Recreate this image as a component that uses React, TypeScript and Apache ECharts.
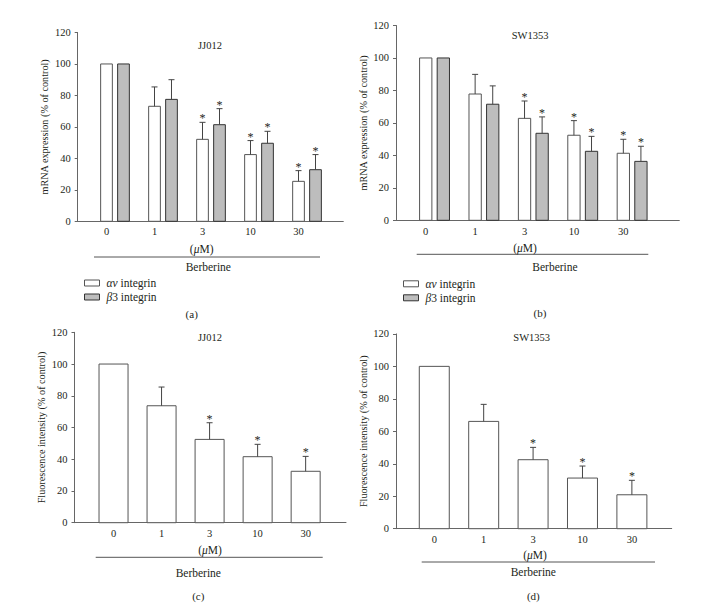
import React, { useEffect, useRef } from "react";
import * as echarts from "echarts";

// ---------- data ----------
const doses = ["0", "1", "3", "10", "30"];

// (a) JJ012 mRNA expression (% of control)
const jjMrnaAv = [100, 73.1, 52.1, 42.4, 25.4];
const jjMrnaAvErr = [0, 12.3, 10.8, 8.9, 6.8];
const jjMrnaB3 = [100, 77.5, 61.4, 49.6, 32.8];
const jjMrnaB3Err = [0, 12.5, 10.2, 7.6, 9.6];

// (b) SW1353 mRNA expression (% of control)
const swMrnaAv = [100, 77.8, 62.8, 52.4, 41.3];
const swMrnaAvErr = [0, 12.1, 10.7, 9.0, 8.6];
const swMrnaB3 = [100, 71.5, 53.6, 42.5, 36.3];
const swMrnaB3Err = [0, 11.3, 10.1, 9.2, 9.3];

// (c) JJ012 fluorescence intensity (% of control)
const jjFluo = [100, 73.7, 52.5, 41.6, 32.4];
const jjFluoErr = [0, 11.8, 10.5, 7.8, 9.4];

// (d) SW1353 fluorescence intensity (% of control)
const swFluo = [100, 66.1, 42.5, 31.2, 20.9];
const swFluoErr = [0, 10.5, 7.6, 7.4, 8.9];

// significance markers (*)
const significant = [0, 0, 1, 1, 1];

const AV = "αv integrin";
const B3 = "β3 integrin";

// ---------- style ----------
const FONT = "Liberation Serif, DejaVu Serif, serif";
const TXT = "#231f20";
const AXIS = "#666";
const EDGE = "#444";
const GRAYFILL = "#bdbdbd";

type BarOpts = {
  name: string;
  axis: number;
  values: number[];
  errs: number[];
  offset: number;
  widthFrac: number;
  fill: string;
  stroke: string;
};

function barSeries(o: BarOpts) {
  const data = o.values.map((v, i) => [i, v, o.errs[i], significant[i]]);
  return {
    type: "custom",
    name: o.name,
    xAxisIndex: o.axis,
    yAxisIndex: o.axis,
    itemStyle: { color: o.fill, borderColor: o.stroke, borderWidth: 1 },
    encode: { x: 0, y: 1 },
    clip: false,
    data,
    renderItem: (params: any, api: any) => {
      const x = api.value(0) + o.offset;
      const v = api.value(1);
      const e = api.value(2);
      const s = api.value(3);
      const base = api.coord([x, 0]);
      const top = api.coord([x, v]);
      const w = api.size([1, 0])[0] * o.widthFrac;
      const children: any[] = [
        {
          type: "rect",
          shape: { x: base[0] - w / 2, y: top[1], width: w, height: base[1] - top[1] },
          style: { fill: o.fill, stroke: o.stroke, lineWidth: 1 },
        },
      ];
      if (e > 0) {
        const et = api.coord([x, v + e]);
        children.push({
          type: "line",
          shape: { x1: top[0], y1: top[1], x2: top[0], y2: et[1] },
          style: { stroke: EDGE, lineWidth: 1 },
        });
        children.push({
          type: "line",
          shape: { x1: top[0] - 3, y1: et[1], x2: top[0] + 3, y2: et[1] },
          style: { stroke: EDGE, lineWidth: 1 },
        });
        if (s) {
          children.push({
            type: "text",
            x: top[0],
            y: et[1] - 4,
            style: {
              text: "*",
              fontSize: 12,
              fontFamily: FONT,
              fill: TXT,
              align: "center",
              verticalAlign: "middle",
            },
          });
        }
      }
      return { type: "group", children };
    },
  };
}

const panels = [
  { left: 77.7, top: 32.5, width: 265.6, height: 188.8, min: -0.777, max: 4.756, labelOff: -0.177, margin: 5, yName: "mRNA expression (% of control)" },
  { left: 396, top: 25.5, width: 283.3, height: 194.8, min: -0.78, max: 4.955, labelOff: -0.178, margin: 5.5, yName: "mRNA expression (% of control)" },
  { left: 74.5, top: 332.3, width: 271.5, height: 190.4, min: -0.8125, max: 4.84, labelOff: 0, margin: 5, yName: "Fluorescence intensity (% of control)" },
  { left: 396, top: 333.9, width: 275.7, height: 194.8, min: -0.775, max: 4.806, labelOff: 0, margin: 5.5, yName: "Fluorescence intensity (% of control)" },
];

function txt(x: number, y: number, text: string, size = 11.5, rich?: any) {
  return {
    type: "text",
    x,
    y,
    style: {
      text,
      fontSize: size,
      fontFamily: FONT,
      fill: TXT,
      align: "center",
      verticalAlign: "middle",
      rich,
    },
  };
}

function hline(x1: number, x2: number, y: number) {
  return { type: "line", shape: { x1, y1: y, x2, y2: y }, style: { stroke: "#555", lineWidth: 1 } };
}

const italicRich = { i: { fontStyle: "italic", fontFamily: FONT, fontSize: 11.5, fill: TXT } };

export default function App() {
  const ref = useRef<HTMLDivElement>(null);
  useEffect(() => {
    document.body.style.margin = "0";
    if (!ref.current) return;
    const chart = echarts.init(ref.current, undefined, { renderer: "svg" });

    const grid = panels.map((p) => ({ left: p.left, top: p.top, width: p.width, height: p.height, containLabel: false }));
    const xAxis = panels.map((p, i) => ({
      type: "value",
      gridIndex: i,
      min: p.min,
      max: p.max,
      splitLine: { show: false },
      axisTick: { show: false },
      axisLine: { show: true, onZero: false, lineStyle: { color: AXIS, width: 1 } },
      axisLabel: {
        customValues: doses.map((_, k) => k + p.labelOff),
        formatter: (v: number) => doses[Math.round(v)] ?? "",
        fontFamily: FONT,
        fontSize: 10.5,
        color: TXT,
        margin: p.margin,
      },
    }));
    const yAxis = panels.map((p, i) => ({
      type: "value",
      gridIndex: i,
      min: 0,
      max: 120,
      interval: 20,
      splitLine: { show: false },
      axisLine: { show: true, onZero: false, lineStyle: { color: AXIS, width: 1 } },
      axisTick: { show: true, length: 3, lineStyle: { color: AXIS } },
      axisLabel: { fontFamily: FONT, fontSize: 10.5, color: TXT, margin: 7 },
      name: p.yName,
      nameLocation: "middle",
      nameGap: 28,
      nameTextStyle: { fontFamily: FONT, fontSize: 10.2, color: TXT },
    }));

    const series = [
      barSeries({ name: AV, axis: 0, values: jjMrnaAv, errs: jjMrnaAvErr, offset: -0.177, widthFrac: 0.244, fill: "#ffffff", stroke: "#555" }),
      barSeries({ name: B3, axis: 0, values: jjMrnaB3, errs: jjMrnaB3Err, offset: 0.177, widthFrac: 0.244, fill: GRAYFILL, stroke: "#333" }),
      barSeries({ name: AV, axis: 1, values: swMrnaAv, errs: swMrnaAvErr, offset: -0.178, widthFrac: 0.249, fill: "#ffffff", stroke: "#555" }),
      barSeries({ name: B3, axis: 1, values: swMrnaB3, errs: swMrnaB3Err, offset: 0.178, widthFrac: 0.249, fill: GRAYFILL, stroke: "#333" }),
      barSeries({ name: "JJ012 fluorescence", axis: 2, values: jjFluo, errs: jjFluoErr, offset: 0, widthFrac: 0.604, fill: "#ffffff", stroke: "#555" }),
      barSeries({ name: "SW1353 fluorescence", axis: 3, values: swFluo, errs: swFluoErr, offset: 0, widthFrac: 0.607, fill: "#ffffff", stroke: "#555" }),
    ];

    const legendData = [
      { name: AV, itemStyle: { color: "#ffffff", borderColor: "#555", borderWidth: 1 } },
      { name: B3, itemStyle: { color: GRAYFILL, borderColor: "#333", borderWidth: 1 } },
    ];
    const legendCommon = {
      orient: "vertical",
      itemWidth: 15,
      itemHeight: 6,
      itemGap: 1,
      icon: "rect",
      selectedMode: false,
      data: legendData,
      formatter: (n: string) => (n === AV ? "{i|αv} integrin" : "{i|β}3 integrin"),
      textStyle: { fontFamily: FONT, fontSize: 11.5, color: TXT, lineHeight: 13, padding: [0, 0, 0, 2], rich: italicRich },
    };
    const legend = [
      { ...legendCommon, left: 79, top: 271.5 },
      { ...legendCommon, left: 398, top: 272.3 },
    ];

    const mu = "({i|μ}M)";
    const graphic = [
      // (a)
      txt(210, 45, "JJ012", 10.5),
      txt(201.7, 249, mu, 11.5, italicRich),
      hline(94, 320, 257),
      txt(208.3, 267, "Berberine"),
      txt(191.7, 314.3, "(a)", 11),
      // (b)
      txt(530, 35, "SW1353", 10.5),
      txt(525, 248.3, mu, 11.5, italicRich),
      hline(416.7, 648.3, 254.3),
      txt(555, 266.7, "Berberine"),
      txt(540, 313.3, "(b)", 11),
      // (c)
      txt(210, 337.3, "JJ012", 10.5),
      txt(210, 550, mu, 11.5, italicRich),
      hline(95.7, 322.7, 557.3),
      txt(198.3, 572.7, "Berberine"),
      txt(198.3, 596, "(c)", 11),
      // (d)
      txt(531.7, 337.3, "SW1353", 10.5),
      txt(535, 555.3, mu, 11.5, italicRich),
      hline(421.7, 655, 562),
      txt(533.3, 571.7, "Berberine"),
      txt(533.3, 595.7, "(d)", 11),
    ];

    chart.setOption({
      animation: false,
      backgroundColor: "#ffffff",
      grid,
      xAxis,
      yAxis,
      series,
      legend,
      graphic,
    } as any);
    return () => chart.dispose();
  }, []);
  return <div ref={ref} style={{ width: 724, height: 606 }} />;
}
